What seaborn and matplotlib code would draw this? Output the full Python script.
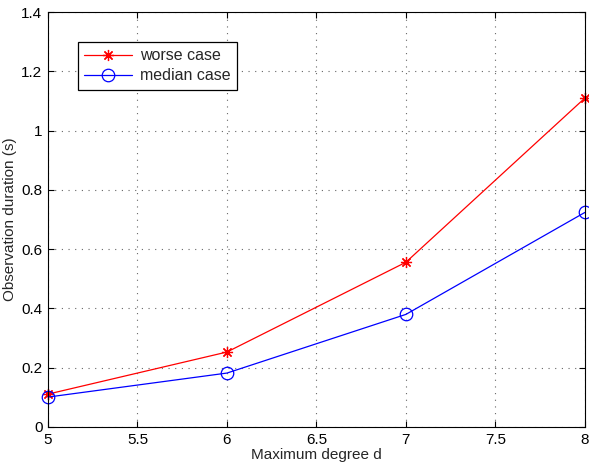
import matplotlib
matplotlib.use("Agg")
import matplotlib.pyplot as plt
import seaborn as sns
import pandas as pd

degrees = [5, 6, 7, 8]
worse_case = [0.111, 0.253, 0.556, 1.11]
median_case = [0.101, 0.182, 0.380, 0.724]
series_names = ["worse case", "median case"]

sns.set_style("white")
plt.rcParams['font.family'] = ['Liberation Sans', 'DejaVu Sans']

df_w = pd.DataFrame({"d": degrees, "val": worse_case})
df_m = pd.DataFrame({"d": degrees, "val": median_case})

fig = plt.figure(figsize=(5.89, 4.66), dpi=100)
ax = fig.add_axes([0.0815, 0.0837, 0.9115, 0.8903])

sns.lineplot(data=df_w, x="d", y="val", ax=ax, color="#ff0000", linewidth=0.9,
             marker=(8, 2, 0), markersize=8, markeredgecolor="#ff0000",
             markeredgewidth=0.9, label=series_names[0])
sns.lineplot(data=df_m, x="d", y="val", ax=ax, color="#0000ff", linewidth=0.9,
             marker="o", markersize=9, markerfacecolor="none", markeredgecolor="#0000ff",
             markeredgewidth=0.9, label=series_names[1])
for ln in ax.get_lines():
    ln.set_clip_on(False)

ax.set_xlim(5, 8)
ax.set_ylim(0, 1.4)
ax.set_xticks([5, 5.5, 6, 6.5, 7, 7.5, 8])
ax.set_xticklabels(["5", "5.5", "6", "6.5", "7", "7.5", "8"])
ax.set_yticks([0, 0.2, 0.4, 0.6, 0.8, 1, 1.2, 1.4])
ax.set_yticklabels(["0", "0.2", "0.4", "0.6", "0.8", "1", "1.2", "1.4"])
ax.tick_params(direction="in", length=4, labelsize=11, colors="black", pad=4,
               top=True, right=True, bottom=True, left=True)
ax.grid(True, linestyle=(0, (1, 5)), color="#666666", linewidth=0.8)
for s in ax.spines.values():
    s.set_color("black")
    s.set_linewidth(0.8)
    s.set_visible(True)

ax.set_xlabel("Maximum degree d", fontsize=11, labelpad=1)
ax.set_ylabel("Observation duration (s)", fontsize=11, labelpad=3)

leg = ax.legend(loc="upper left", bbox_to_anchor=(0.056, 0.928), borderaxespad=0,
                fontsize=11.5, frameon=True, fancybox=False, edgecolor="black",
                framealpha=1, handlelength=3.0, borderpad=0.4, labelspacing=0.3,
                handletextpad=0.5)
leg.get_frame().set_linewidth(0.9)

fig.savefig("out.png", dpi=100)
